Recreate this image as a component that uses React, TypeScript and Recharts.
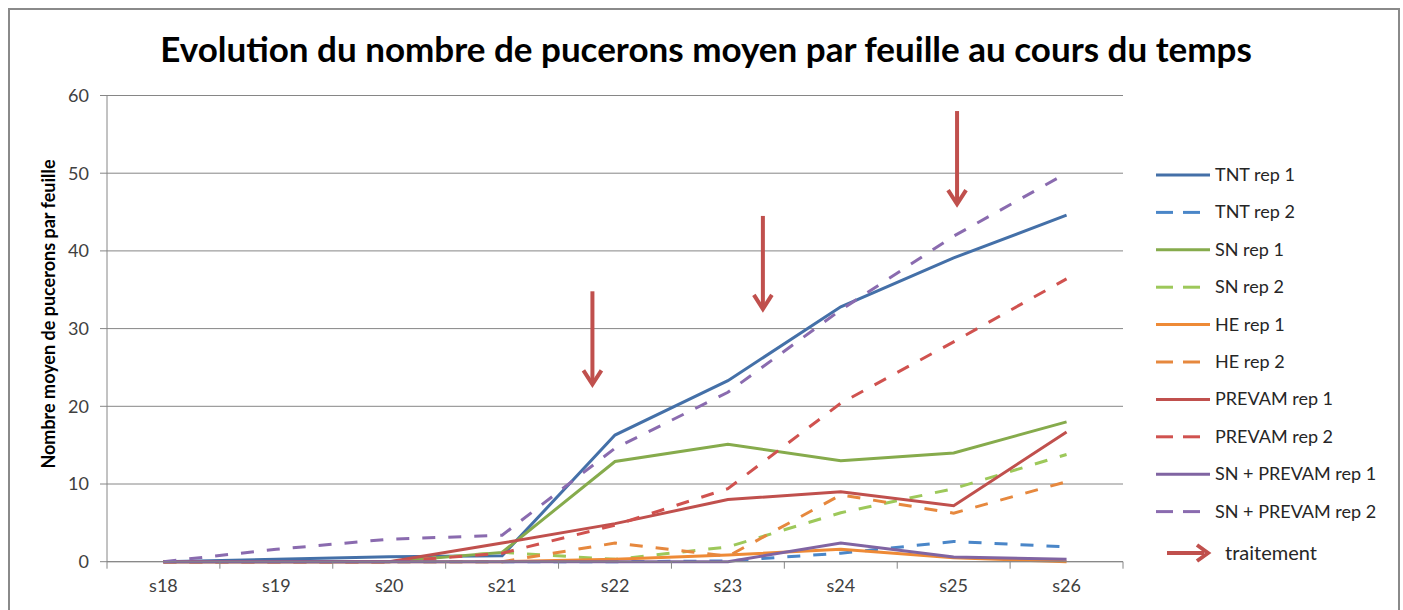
import { CartesianGrid, Line, LineChart, ReferenceLine, XAxis, YAxis } from "recharts";

// weeks on the x axis
const WEEKS = ["s18", "s19", "s20", "s21", "s22", "s23", "s24", "s25", "s26"];

// mean aphids per leaf
const TNT_REP1 = [0, 0.3, 0.65, 0.75, 16.3, 23.3, 32.8, 39.1, 44.6];
const TNT_REP2 = [0, 0, 0, 0, 0, 0.1, 1.1, 2.6, 1.9];
const SN_REP1 = [0, 0, 0, 1.2, 12.9, 15.1, 13.0, 14.0, 18.0];
const SN_REP2 = [0, 0, 0, 1.2, 0.3, 1.9, 6.3, 9.4, 13.8];
const HE_REP1 = [0, 0, 0, 0, 0.3, 0.85, 1.6, 0.5, 0];
const HE_REP2 = [0, 0, 0, 0, 2.4, 0.7, 8.6, 6.25, 10.3];
const PREVAM_REP1 = [0, 0, 0, 2.4, 4.9, 8.0, 9.0, 7.2, 16.7];
const PREVAM_REP2 = [0, 0, 0, 1.1, 4.7, 9.4, 20.4, 28.3, 36.4];
const SNP_REP1 = [0, 0, 0, 0, 0, 0, 2.4, 0.6, 0.3];
const SNP_REP2 = [0, 1.6, 2.9, 3.4, 14.6, 21.8, 32.4, 41.9, 50.0];

const Y_TICKS = [0, 10, 20, 30, 40, 50, 60];

// treatment arrows: x in week index units, y in aphids
const ARROW_X = [3.8, 5.31, 7.03];
const ARROW_TOP = [34.8, 44.5, 58.0];
const ARROW_TIP = [22.7, 32.4, 45.9];

const ARROW = "#C0504D";
const GRID = "#868686";
const TEXT = "#404040";
const FONT = "Lato, 'Open Sans', sans-serif";
const DASH = "13 13";

const SERIES = [
  { name: "TNT rep 1", values: TNT_REP1, color: "#4470A8", dashed: false },
  { name: "TNT rep 2", values: TNT_REP2, color: "#4A86C8", dashed: true },
  { name: "SN rep 1", values: SN_REP1, color: "#86AB4C", dashed: false },
  { name: "SN rep 2", values: SN_REP2, color: "#9DC85A", dashed: true },
  { name: "HE rep 1", values: HE_REP1, color: "#EE8A36", dashed: false },
  { name: "HE rep 2", values: HE_REP2, color: "#E6883E", dashed: true },
  { name: "PREVAM rep 1", values: PREVAM_REP1, color: "#C0504D", dashed: false },
  { name: "PREVAM rep 2", values: PREVAM_REP2, color: "#D0524F", dashed: true },
  { name: "SN + PREVAM rep 1", values: SNP_REP1, color: "#8064A2", dashed: false },
  { name: "SN + PREVAM rep 2", values: SNP_REP2, color: "#8A6BAF", dashed: true },
];

const rows = WEEKS.map((w, i) => {
  const r: Record<string, number | string> = { idx: i, week: w };
  SERIES.forEach((s, k) => {
    r[`s${k}`] = s.values[i];
  });
  return r;
});

// ticks at week centres (labels) and at the boundaries (tick marks)
const X_TICKS = Array.from({ length: WEEKS.length * 2 + 1 }, (_, i) => i / 2 - 0.5);

function WeekTick({ x, y, payload }: any) {
  const v = payload.value as number;
  if (!Number.isInteger(v)) {
    return <line x1={x} y1={y} x2={x} y2={y + 7} stroke={GRID} strokeWidth={1} />;
  }
  return (
    <text x={x} y={y + 30} textAnchor="middle" fontSize={18} fill={TEXT} fontFamily={FONT}>
      {WEEKS[v]}
    </text>
  );
}

function ArrowShape({ x1, y1, x2, y2 }: any) {
  return (
    <g>
      <line x1={x1} y1={y1} x2={x2} y2={y2 - 3} stroke={ARROW} strokeWidth={4} />
      <polyline
        points={`${x2 - 9},${y2 - 15} ${x2},${y2 - 1} ${x2 + 9},${y2 - 15}`}
        fill="none"
        stroke={ARROW}
        strokeWidth={4}
      />
    </g>
  );
}

function LegendBox() {
  const rowH = 37.4;
  return (
    <svg
      width={250}
      height={420}
      style={{ position: "absolute", left: 1150, top: 155 }}
      fontFamily={FONT}
    >
      {SERIES.map((s, i) => {
        const cy = 20 + i * rowH;
        return (
          <g key={s.name}>
            {s.dashed ? (
              <>
                <line x1={6} x2={23} y1={cy} y2={cy} stroke={s.color} strokeWidth={3} />
                <line x1={33} x2={50} y1={cy} y2={cy} stroke={s.color} strokeWidth={3} />
              </>
            ) : (
              <line x1={6} x2={60} y1={cy} y2={cy} stroke={s.color} strokeWidth={3} />
            )}
            <text x={65} y={cy + 6} fontSize={18} fill="#262626">
              {s.name}
            </text>
          </g>
        );
      })}
      <g>
        <line x1={17} x2={54} y1={398} y2={398} stroke={ARROW} strokeWidth={4} />
        <polyline points="47,390 58,398 47,406" fill="none" stroke={ARROW} strokeWidth={4} />
        <text x={75} y={405} fontSize={20} fill="#262626">
          traitement
        </text>
      </g>
    </svg>
  );
}

export default function App() {
  return (
    <div style={{ position: "absolute", left: 0, top: 0, width: 1403, height: 610, background: "#fff", overflow: "hidden" }}>
      <div
        style={{
          position: "absolute",
          left: 8,
          top: 8,
          width: 1388,
          height: 700,
          border: "2px solid #8a8a8a",
        }}
      />
      <div
        style={{
          position: "absolute",
          left: 8,
          top: 26,
          width: 1396,
          textAlign: "center",
          fontFamily: FONT,
          fontWeight: 700,
          fontSize: 35,
          lineHeight: "44px",
          color: "#000",
        }}
      >
        Evolution du nombre de pucerons moyen par feuille au cours du temps
      </div>
      <div
        style={{
          position: "absolute",
          left: 48,
          top: 314,
          transform: "translate(-50%, -50%) rotate(-90deg)",
          whiteSpace: "nowrap",
          fontFamily: FONT,
          fontWeight: 700,
          fontSize: 18,
          color: "#000",
        }}
      >
        Nombre moyen de pucerons par feuille
      </div>
      <div style={{ position: "absolute", left: 0, top: 0 }}>
        <LineChart
          width={1403}
          height={610}
          data={rows}
          margin={{ top: 95.5, right: 280, bottom: 8.3, left: 47 }}
        >
          <CartesianGrid stroke={GRID} vertical={false} />
          <XAxis
            dataKey="idx"
            type="number"
            domain={[-0.5, WEEKS.length - 0.5]}
            ticks={X_TICKS}
            interval={0}
            tickLine={false}
            tickSize={0}
            tickMargin={0}
            tick={<WeekTick />}
            axisLine={{ stroke: GRID }}
            height={40}
          />
          <YAxis
            domain={[0, 60]}
            ticks={Y_TICKS}
            interval={0}
            width={60}
            tickSize={7}
            tickMargin={11}
            axisLine={{ stroke: GRID }}
            tickLine={{ stroke: GRID }}
            tick={{ fontSize: 18, fill: TEXT, fontFamily: FONT }}
          />
          {SERIES.map((s, k) => (
            <Line
              key={s.name}
              dataKey={`s${k}`}
              name={s.name}
              type="linear"
              stroke={s.color}
              strokeWidth={3}
              strokeDasharray={s.dashed ? DASH : undefined}
              dot={false}
              activeDot={false}
              isAnimationActive={false}
            />
          ))}
          {ARROW_X.map((x, i) => (
            <ReferenceLine
              key={i}
              segment={[
                { x, y: ARROW_TOP[i] },
                { x, y: ARROW_TIP[i] },
              ]}
              stroke={ARROW}
              shape={<ArrowShape />}
            />
          ))}
        </LineChart>
      </div>
      <LegendBox />
    </div>
  );
}
